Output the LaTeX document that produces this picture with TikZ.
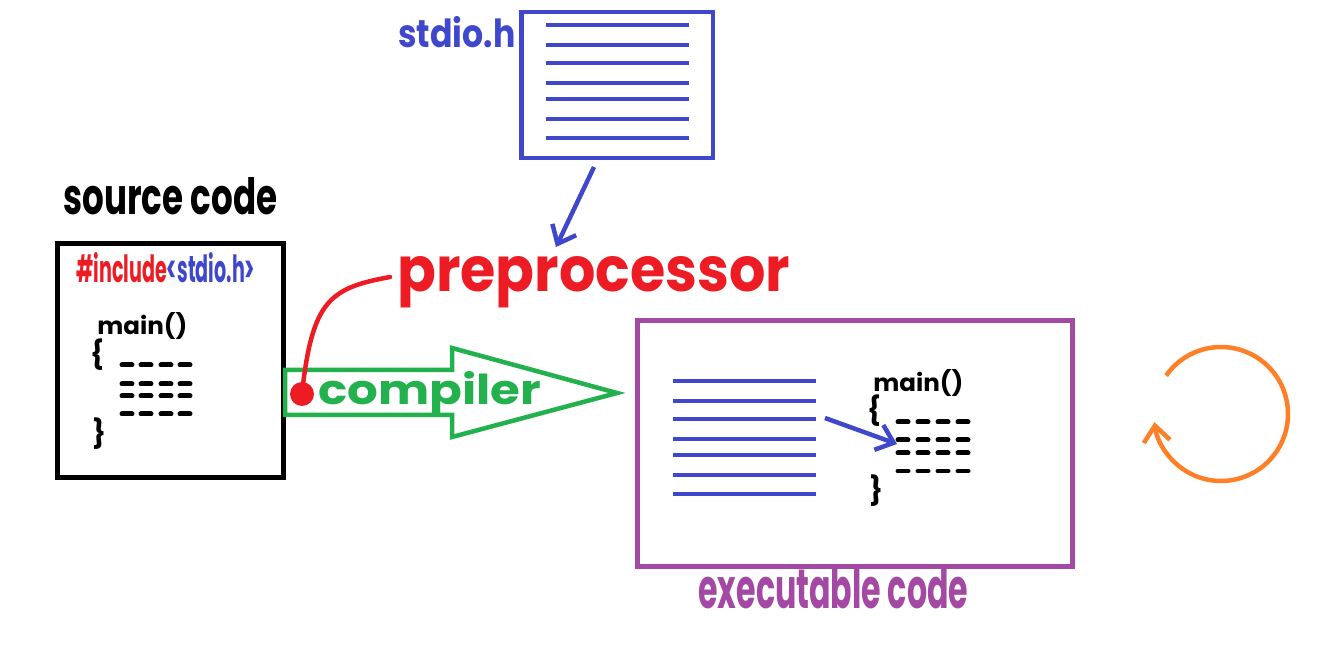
\documentclass[tikz,border=0pt]{standalone}
\usepackage{fontspec}
\setmainfont{Poppins}
\usetikzlibrary{arrows.meta,calc}
\definecolor{cblue}{RGB}{63,72,204}
\definecolor{cred}{RGB}{237,28,36}
\definecolor{cgreen}{RGB}{34,177,76}
\definecolor{cpurple}{RGB}{163,73,164}
\definecolor{corange}{RGB}{255,127,39}
\newcommand{\fitbox}[3]{\resizebox{#1}{#2}{#3}}
\tikzset{
  txt/.style={inner sep=0pt, anchor=base west},
  docline/.style={cblue, line width=0.09cm},
  dashmark/.style={line width=0.1cm, line cap=round},
  barb/.style={-{Straight Barb[length=9pt,width=15pt,line width=0.09cm]}},
  brace/.style={inner sep=0pt, font=\fontsize{16}{16}\selectfont\bfseries}
}
\begin{document}
\begin{tikzpicture}[x=0.02cm,y=-0.02cm]
\useasboundingbox[fill=white] (0,0) rectangle (1330,655);

% stdio.h document
\node[draw=cblue, line width=0.09cm, inner sep=0pt, minimum width=3.84cm, minimum height=2.92cm, anchor=north west] (stdio) at (519,10) {};
\foreach \yy in {25,45,63,83,99,119,138} \draw[docline] (546,\yy) -- (689,\yy);
\node[txt, text=cblue] (stdiolbl) at (398,48) {\fitbox{2.34cm}{0.62cm}{\bfseries stdio.h}};

% source code box
\node[txt] (srclbl) at (63,215) {\fitbox{4.28cm}{0.74cm}{\bfseries source code}};
\node[draw=black, line width=0.1cm, inner sep=0pt, minimum width=4.52cm, minimum height=4.68cm, anchor=north west] (src) at (55,241) {};
\node[txt] (incl) at (76,283) {\fitbox{3.58cm}{0.6cm}{\bfseries\textcolor{cred}{\#include}\textcolor{cblue}{<stdio.h>}}};
\node[txt] (srcmain) at (97,335) {\fitbox{1.8cm}{0.44cm}{\bfseries main()}};
\node[brace] (srcob) at (98,355) {\{};
\node[brace] (srccb) at (100,434) {\}};
\foreach \yy in {365,384,396,414}
  \foreach \xx in {122,141,161,180} \draw[dashmark] (\xx,\yy) -- ++(10,0);

% compiler arrow
\coordinate (ca1) at (285,370);
\coordinate (ca2) at (452,370);
\coordinate (ca3) at (452,348);
\coordinate (tip) at (617,393);
\coordinate (ca5) at (452,437);
\coordinate (ca6) at (452,415);
\coordinate (ca7) at (285,415);
\draw[cgreen, line width=0.09cm, line join=miter] (ca1) -- (ca2) -- (ca3) -- (tip) -- (ca5) -- (ca6) -- (ca7) -- cycle;
\node[txt, text=cgreen] (comp) at (318,405) {\fitbox{4.46cm}{0.66cm}{\bfseries compiler}};

% preprocessor
\node[txt, text=cred] (pre) at (397,292) {\fitbox{7.86cm}{0.7cm}{\bfseries preprocessor}};
\fill[cred] (302,394) circle[radius=0.24cm] coordinate (dot);
\coordinate (preend) at (390,277);
\draw[cred, line width=0.09cm, line cap=round] (dot) .. controls (312,300) and (330,288) .. (preend);

% arrow stdio -> preprocessor
\coordinate (sa1) at (594,167);
\coordinate (sa2) at (556,247);
\draw[cblue, line width=0.09cm, barb] (sa1) -- (sa2);

% executable box
\node[draw=cpurple, line width=0.1cm, inner sep=0pt, minimum width=8.7cm, minimum height=4.92cm, anchor=north west] (exe) at (635,318) {};
\foreach \yy in {381,401,419,439,455,475,494} \draw[docline] (673,\yy) -- (816,\yy);
\node[txt] (exemain) at (873,392) {\fitbox{1.8cm}{0.44cm}{\bfseries main()}};
\node[brace] (exeob) at (875,411) {\{};
\node[brace] (execb) at (877,491) {\}};
\foreach \yy in {422,440,453,471}
  \foreach \xx in {898,918,938,958} \draw[dashmark] (\xx,\yy) -- ++(10,0);
\coordinate (ea1) at (825,418);
\coordinate (ea2) at (897,444);
\draw[cblue, line width=0.09cm, barb] (ea1) -- (ea2);
\node[txt, text=cpurple] (exelbl) at (698,608) {\fitbox{5.4cm}{0.82cm}{\bfseries executable code}};

% orange circular arrow
\coordinate (cc) at (1221,414);
\draw[corange, line width=0.09cm, barb] ([shift={(145:1.34cm)}]cc) arc[start angle=145, end angle=-173, radius=1.34cm];
\end{tikzpicture}
\end{document}
